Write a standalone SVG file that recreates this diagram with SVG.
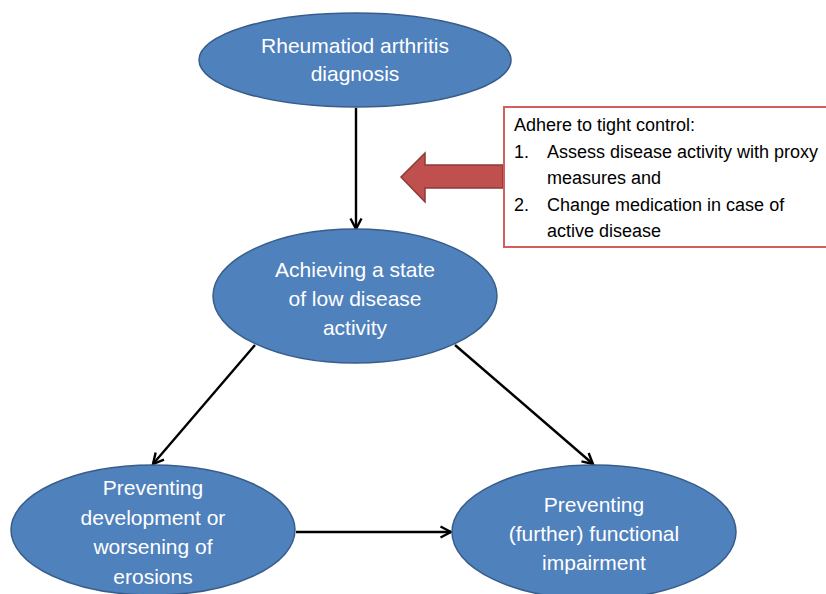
<svg xmlns="http://www.w3.org/2000/svg" width="826" height="594" viewBox="0 0 826 594">
<defs>
<marker id="arr" viewBox="0 0 14 14" refX="12.5" refY="7" markerWidth="14" markerHeight="14" markerUnits="userSpaceOnUse" orient="auto">
<path d="M2,1.5 L12.5,7 L2,12.5" fill="none" stroke="#000" stroke-width="2.4"/>
</marker>
</defs>
<style>
.node ellipse{fill:#4F81BD;stroke:#385D8A;stroke-width:1.5}
.node text{font-family:"Liberation Sans",Arial,sans-serif;font-size:21px;fill:#fff;text-anchor:middle}
.conn line{stroke:#000;stroke-width:2.4;marker-end:url(#arr)}
.note text{font-family:"Liberation Sans",Arial,sans-serif;font-size:18px;fill:#000}
</style>
<rect width="826" height="594" fill="#fff"/>
<g id="connectors" class="conn">
<line x1="356" y1="108" x2="356" y2="229"/>
<line x1="255" y1="345" x2="153" y2="464"/>
<line x1="455" y1="345" x2="593" y2="464"/>
<line x1="296" y1="532" x2="451" y2="532"/>
</g>
<g id="callout-arrow">
<path d="M503,165 L425,165 L425,153 L401,177 L425,202 L425,188 L503,188 Z" fill="#C0504D" stroke="#8C3A38" stroke-width="1.5"/>
</g>
<g id="note" class="note">
<rect x="504" y="107" width="330" height="140" fill="#fff" stroke="#D0605D" stroke-width="2"/>
<text x="514" y="131">Adhere to tight control:</text>
<text x="514" y="158">1.</text>
<text x="547" y="158">Assess disease activity with proxy</text>
<text x="547" y="184">measures and</text>
<text x="514" y="211">2.</text>
<text x="547" y="211">Change medication in case of</text>
<text x="547" y="237">active disease</text>
</g>
<g id="n-diagnosis" class="node">
<ellipse cx="355" cy="60" rx="156" ry="47"/>
<text x="355" y="53">Rheumatiod arthritis</text>
<text x="355" y="81">diagnosis</text>
</g>
<g id="n-low-activity" class="node">
<ellipse cx="355" cy="296" rx="142" ry="67"/>
<text x="355" y="277">Achieving a state</text>
<text x="355" y="306">of low disease</text>
<text x="355" y="335">activity</text>
</g>
<g id="n-erosions" class="node">
<ellipse cx="153" cy="530" rx="142" ry="65"/>
<text x="153" y="495">Preventing</text>
<text x="153" y="525">development or</text>
<text x="153" y="554">worsening of</text>
<text x="153" y="584">erosions</text>
</g>
<g id="n-functional" class="node">
<ellipse cx="594" cy="532" rx="142" ry="67"/>
<text x="594" y="512">Preventing</text>
<text x="594" y="541">(further) functional</text>
<text x="594" y="570">impairment</text>
</g>
</svg>
